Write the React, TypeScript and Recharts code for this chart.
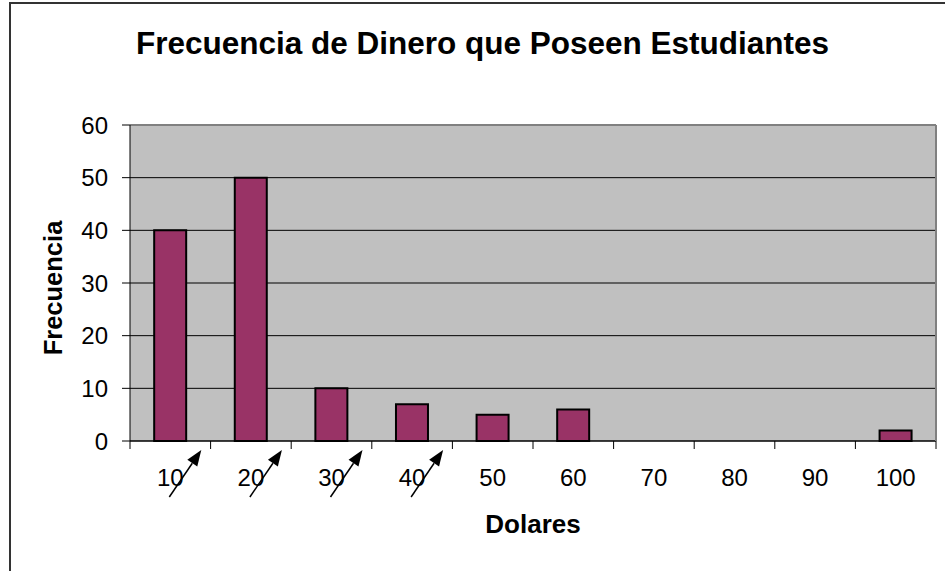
import React from "react";
import {
  Bar,
  XAxis,
  YAxis,
  BarChart,
  CartesianGrid,
  ReferenceLine,
} from "recharts";

const categories = ["10", "20", "30", "40", "50", "60", "70", "80", "90", "100"];
const frequency = [40, 50, 10, 7, 5, 6, 0, 0, 0, 2];
const arrowed = ["10", "20", "30", "40"];
const yTicks = [0, 10, 20, 30, 40, 50, 60];

const data = categories.map((c, i) => ({ name: c, freq: frequency[i] }));

const FONT = "Arial, 'Liberation Sans', sans-serif";

const DollarTick = (props: any) => {
  const { x, y, payload, index, visibleTicksCount } = props;
  const half = payload.offset ?? 40;
  const axisY = y - 8;
  const isArrow = arrowed.includes(String(payload.value));
  // arrow from lower-left to upper-right, over the label
  const sx = x - 1, sy = axisY + 56;
  const tx = x + 31, ty = axisY + 9;
  const len = Math.hypot(tx - sx, ty - sy);
  const ux = (tx - sx) / len, uy = (ty - sy) / len;
  const bx = tx - ux * 16, by = ty - uy * 16;
  const nx = -uy, ny = ux;
  return (
    <g>
      <line x1={x - half} x2={x - half} y1={axisY} y2={axisY + 8} stroke="#000" />
      {index === visibleTicksCount - 1 && (
        <line x1={x + half} x2={x + half} y1={axisY} y2={axisY + 8} stroke="#000" />
      )}
      <text x={x} y={axisY + 45} textAnchor="middle" fontSize={24} fontFamily={FONT} fill="#000">
        {payload.value}
      </text>
      {isArrow && (
        <g>
          <line x1={sx} y1={sy} x2={bx} y2={by} stroke="#000" strokeWidth={1.5} />
          <polygon
            points={`${tx},${ty} ${bx + nx * 6},${by + ny * 6} ${bx - nx * 6},${by - ny * 6}`}
            fill="#000"
          />
        </g>
      )}
    </g>
  );
};

const App = () => {
  return (
    <div
      style={{
        position: "absolute",
        left: 0,
        top: 0,
        width: 945,
        height: 571,
        overflow: "hidden",
        background: "#fff",
        fontFamily: FONT,
      }}
    >
      <div
        style={{
          position: "absolute",
          left: 9,
          top: 2,
          width: 1100,
          height: 800,
          border: "2px solid #333",
          boxSizing: "border-box",
        }}
      />
      <div
        style={{
          position: "absolute",
          left: 0,
          width: 965,
          top: 24,
          textAlign: "center",
          fontSize: 31.5,
          fontWeight: "bold",
          lineHeight: "38px",
        }}
      >
        Frecuencia de Dinero que Poseen Estudiantes
      </div>
      <BarChart
        width={945}
        height={571}
        data={data}
        margin={{ top: 125, right: 8, left: 0, bottom: 0 }}
        barCategoryGap="30%"
        style={{ position: "absolute", left: 0, top: 0 }}
      >
        <CartesianGrid
          vertical={false}
          stroke="#000"
          fill="#C0C0C0"
          fillOpacity={1}
          horizontalValues={yTicks}
        />
        <XAxis
          dataKey="name"
          height={130}
          tickLine={false}
          tickSize={8}
          tickMargin={0}
          interval={0}
          stroke="#000"
          tick={<DollarTick />}
          label={({ viewBox }: any) => (
            <text
              x={viewBox.x + viewBox.width / 2}
              y={viewBox.y + 92}
              textAnchor="middle"
              fontSize={26}
              fontWeight="bold"
              fontFamily={FONT}
              fill="#000"
            >
              Dolares
            </text>
          )}
        />
        <YAxis
          width={130}
          domain={[0, 60]}
          ticks={yTicks}
          interval={0}
          tickSize={8}
          tickMargin={14}
          stroke="#000"
          tick={{ fill: "#000", fontSize: 24, fontFamily: FONT }}
          label={({ viewBox }: any) => {
            const cx = viewBox.x + 53;
            const cy = viewBox.y + viewBox.height / 2 + 5;
            return (
              <text
                x={cx}
                y={cy}
                transform={`rotate(-90 ${cx} ${cy})`}
                textAnchor="middle"
                dominantBaseline="central"
                fontSize={25.5}
                fontWeight="bold"
                fontFamily={FONT}
                fill="#000"
              >
                Frecuencia
              </text>
            );
          }}
        />
        <YAxis
          yAxisId="right"
          orientation="right"
          width={1}
          domain={[0, 60]}
          tick={false}
          tickLine={false}
          axisLine={{ stroke: "#808080", strokeWidth: 2 }}
        />
        <ReferenceLine y={60} stroke="#808080" strokeWidth={2} />
        <Bar
          dataKey="freq"
          fill="#993366"
          stroke="#000"
          strokeWidth={2}
          isAnimationActive={false}
        />
      </BarChart>
    </div>
  );
};

export default App;
